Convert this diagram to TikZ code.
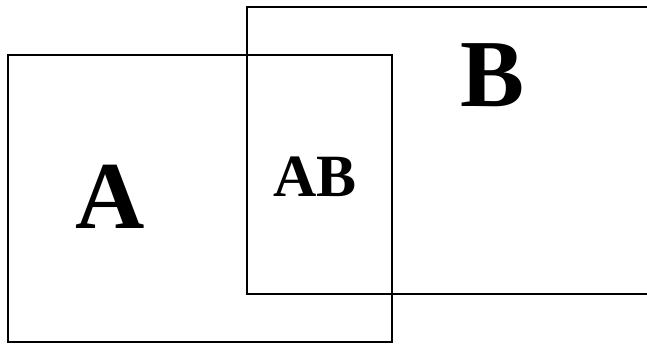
\documentclass[tikz,border=0pt]{standalone}
\usepackage{fontspec}
\setmainfont{Liberation Serif}
\begin{document}
\begin{tikzpicture}[x=1pt, y=-1pt, line width=1.6pt,
  every node/.style = {inner sep=0pt},
  setname/.style = {font=\fontsize{96}{96}\selectfont\bfseries},
  meetname/.style = {font=\fontsize{60}{60}\selectfont\bfseries}]
  \useasboundingbox (0,0) rectangle (647,343);
  \clip (0,0) rectangle (647,343);
  \draw (8,55) rectangle (392,342);
  \draw (247,7) rectangle (660,294);
  \node[setname] (setA) at (110.5,196.5) {A};
  \node[setname] (setB) at (492.5,75) {B};
  \node[meetname] (setAB) at (315,177) {AB};
\end{tikzpicture}
\end{document}
